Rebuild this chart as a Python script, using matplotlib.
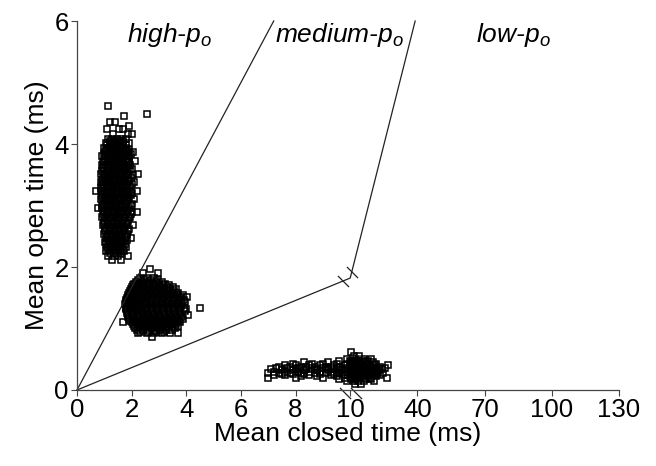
import numpy as np
import matplotlib
matplotlib.use("Agg")
import matplotlib.pyplot as plt

plt.rcParams["font.family"] = ["Liberation Sans", "DejaVu Sans"]
plt.rcParams["mathtext.fontset"] = "custom"
plt.rcParams["mathtext.it"] = "Liberation Sans:italic"
plt.rcParams["mathtext.rm"] = "Liberation Sans"

# ---- data (mean closed time ms, mean open time ms) ----
# each row: (open time, [closed times])
high_po_rows = [
    (4.62, [1.15]), (4.49, [2.57]), (4.45, [1.72]), (4.36, [1.22, 1.40]),
    (4.30, [1.90]), (4.24, [1.08, 1.55, 1.68]), (4.16, [1.30, 1.85, 2.02]),
    (4.08, [1.12, 1.28, 1.45, 1.62, 1.78]),
    (4.05, [1.20, 1.37, 1.53, 1.70]),
    (4.01, [1.05, 1.20, 1.38, 1.55, 1.70, 1.92]),
    (3.98, [1.10, 1.28, 1.46, 1.62, 1.80]),
    (3.94, [0.98, 1.15, 1.30, 1.47, 1.63, 1.80]),
    (3.91, [1.06, 1.25, 1.40, 1.58, 1.74, 1.92]),
    (3.87, [1.02, 1.22, 1.36, 1.52, 1.68, 1.85, 2.05]),
    (3.84, [1.00, 1.16, 1.32, 1.48, 1.64, 1.80, 1.96]),
    (3.80, [0.93, 1.10, 1.27, 1.42, 1.58, 1.75, 1.90]),
    (3.77, [1.04, 1.20, 1.37, 1.54, 1.70, 1.86]),
    (3.73, [0.98, 1.16, 1.33, 1.50, 1.66, 1.83, 2.12]),
    (3.70, [0.95, 1.12, 1.28, 1.45, 1.62, 1.78, 1.92]),
    (3.66, [0.90, 1.05, 1.22, 1.40, 1.56, 1.72, 1.95]),
    (3.63, [1.00, 1.17, 1.34, 1.50, 1.67, 1.85]),
    (3.59, [0.96, 1.12, 1.30, 1.46, 1.63, 1.80, 2.00]),
    (3.56, [0.92, 1.08, 1.25, 1.42, 1.58, 1.75, 1.93]),
    (3.52, [0.88, 1.03, 1.20, 1.37, 1.54, 1.70, 1.88, 2.22]),
    (3.49, [0.98, 1.15, 1.32, 1.48, 1.65, 1.82, 2.04]),
    (3.45, [0.94, 1.10, 1.27, 1.44, 1.60, 1.77, 1.96]),
    (3.42, [0.90, 1.06, 1.22, 1.40, 1.56, 1.73, 1.90]),
    (3.38, [0.86, 1.02, 1.18, 1.35, 1.52, 1.68, 1.85, 2.10]),
    (3.35, [0.96, 1.13, 1.30, 1.46, 1.63, 1.80, 2.00]),
    (3.31, [0.92, 1.08, 1.25, 1.42, 1.58, 1.75, 1.93]),
    (3.28, [0.88, 1.00, 1.16, 1.33, 1.50, 1.66, 1.83]),
    (3.24, [0.70, 0.88, 1.04, 1.21, 1.38, 1.55, 1.72, 1.90, 2.18]),
    (3.21, [0.97, 1.14, 1.31, 1.48, 1.65, 1.82, 2.02]),
    (3.17, [0.93, 1.10, 1.27, 1.44, 1.61, 1.78, 1.98]),
    (3.14, [0.90, 1.06, 1.23, 1.40, 1.57, 1.74, 1.92]),
    (3.10, [0.87, 1.03, 1.20, 1.37, 1.54, 1.71, 1.88, 2.08]),
    (3.07, [0.98, 1.15, 1.32, 1.49, 1.66, 1.84]),
    (3.03, [0.95, 1.12, 1.29, 1.46, 1.63, 1.80, 2.00]),
    (3.00, [0.92, 1.08, 1.25, 1.42, 1.59, 1.76, 1.96]),
    (2.96, [0.78, 0.90, 1.06, 1.23, 1.40, 1.57, 1.74, 1.92]),
    (2.93, [1.00, 1.17, 1.34, 1.51, 1.68, 1.86]),
    (2.89, [0.97, 1.14, 1.31, 1.48, 1.65, 1.82, 2.02, 2.20]),
    (2.86, [0.95, 1.11, 1.28, 1.45, 1.62, 1.79, 1.98]),
    (2.82, [0.92, 1.08, 1.25, 1.42, 1.59, 1.76, 1.95]),
    (2.79, [1.03, 1.20, 1.37, 1.54, 1.72, 1.90]),
    (2.75, [1.00, 1.17, 1.34, 1.51, 1.68, 1.86]),
    (2.72, [0.98, 1.15, 1.32, 1.49, 1.66, 1.84]),
    (2.68, [0.95, 1.12, 1.29, 1.46, 1.63, 1.80, 2.05]),
    (2.65, [1.06, 1.23, 1.40, 1.57, 1.74]),
    (2.61, [1.03, 1.20, 1.37, 1.54, 1.71, 1.90]),
    (2.58, [1.02, 1.18, 1.35, 1.52, 1.69, 1.86]),
    (2.54, [1.00, 1.15, 1.32, 1.49, 1.66, 1.83]),
    (2.51, [1.08, 1.26, 1.43, 1.60, 1.78]),
    (2.47, [1.06, 1.24, 1.41, 1.58, 1.75, 1.98]),
    (2.44, [1.12, 1.30, 1.47, 1.64, 1.82]),
    (2.40, [1.02, 1.18, 1.35, 1.52, 1.69]),
    (2.37, [1.06, 1.22, 1.40, 1.56, 1.74]),
    (2.33, [1.10, 1.28, 1.45, 1.62, 1.80]),
    (2.30, [1.15, 1.33, 1.50, 1.67]),
    (2.26, [1.05, 1.22, 1.40, 1.58, 1.72]),
    (2.22, [1.20, 1.42, 1.62]),
    (2.18, [1.15, 1.35, 1.50, 1.88]),
    (2.12, [1.28, 1.62]),
]

medium_po_rows = [
    (1.96, [2.69]), (1.90, [2.43, 2.95]),
    (1.82, [2.30, 2.55, 2.80]),
    (1.79, [2.22, 2.45, 2.70, 2.95]),
    (1.76, [2.15, 2.38, 2.62, 2.88, 3.10]),
    (1.73, [2.10, 2.32, 2.55, 2.78, 3.00, 3.22]),
    (1.70, [2.05, 2.25, 2.45, 2.68, 2.90, 3.15, 3.35]),
    (1.67, [2.00, 2.20, 2.40, 2.60, 2.82, 3.05, 3.28, 3.50]),
    (1.64, [1.98, 2.15, 2.35, 2.55, 2.75, 2.95, 3.18, 3.40, 3.62]),
    (1.61, [1.94, 2.12, 2.32, 2.52, 2.72, 2.92, 3.12, 3.34, 3.56]),
    (1.58, [1.90, 2.08, 2.28, 2.46, 2.66, 2.86, 3.06, 3.26, 3.48, 3.70]),
    (1.55, [1.88, 2.05, 2.24, 2.43, 2.62, 2.82, 3.02, 3.22, 3.44, 3.66, 3.88]),
    (1.52, [1.85, 2.02, 2.20, 2.40, 2.58, 2.78, 2.98, 3.18, 3.38, 3.58, 3.80, 4.04]),
    (1.49, [1.82, 2.00, 2.18, 2.37, 2.56, 2.76, 2.96, 3.16, 3.36, 3.56, 3.78]),
    (1.46, [1.80, 1.97, 2.15, 2.33, 2.52, 2.72, 2.92, 3.12, 3.32, 3.52, 3.72, 3.90]),
    (1.43, [1.78, 1.95, 2.12, 2.30, 2.50, 2.70, 2.90, 3.10, 3.30, 3.50, 3.70, 3.95]),
    (1.40, [1.76, 1.92, 2.10, 2.28, 2.47, 2.66, 2.86, 3.06, 3.26, 3.46, 3.66, 3.86]),
    (1.37, [1.84, 2.02, 2.20, 2.38, 2.58, 2.78, 2.98, 3.18, 3.38, 3.58, 3.80]),
    (1.34, [1.78, 1.95, 2.13, 2.32, 2.50, 2.70, 2.90, 3.10, 3.30, 3.50, 3.70, 3.92, 4.52]),
    (1.31, [1.80, 1.98, 2.16, 2.34, 2.53, 2.72, 2.92, 3.12, 3.32, 3.52, 3.72, 3.98]),
    (1.28, [1.82, 2.00, 2.18, 2.36, 2.55, 2.75, 2.95, 3.15, 3.35, 3.55, 3.75, 3.95]),
    (1.25, [1.84, 2.02, 2.20, 2.40, 2.58, 2.78, 2.98, 3.18, 3.38, 3.58, 3.78]),
    (1.22, [1.86, 2.05, 2.23, 2.42, 2.61, 2.80, 3.00, 3.20, 3.40, 3.60, 3.80, 4.08]),
    (1.19, [1.88, 2.08, 2.26, 2.45, 2.64, 2.84, 3.04, 3.24, 3.44, 3.64, 3.84]),
    (1.16, [1.92, 2.10, 2.30, 2.48, 2.68, 2.88, 3.08, 3.28, 3.48, 3.68, 3.88]),
    (1.13, [1.95, 2.14, 2.34, 2.53, 2.73, 2.93, 3.13, 3.33, 3.53, 3.73]),
    (1.10, [1.70, 2.00, 2.18, 2.38, 2.58, 2.78, 2.98, 3.18, 3.38, 3.58, 3.78]),
    (1.07, [2.04, 2.24, 2.44, 2.63, 2.83, 3.03, 3.23, 3.43, 3.63]),
    (1.04, [2.08, 2.28, 2.48, 2.68, 2.88, 3.08, 3.28, 3.50, 3.70]),
    (1.01, [2.14, 2.35, 2.55, 2.76, 2.96, 3.16, 3.38, 3.60]),
    (0.98, [2.20, 2.40, 2.62, 2.84, 3.05, 3.26, 3.48]),
    (0.95, [2.32, 2.60, 2.90, 3.20]),
    (0.92, [2.25, 2.55, 2.80, 3.10, 3.40, 3.68]),
    (0.86, [2.76]),
]

low_po_rows = [
    (0.62, [10.3]),
    (0.56, [11.5, 14.0]),
    (0.50, [9.9, 12.5, 16.0, 19.5]),
    (0.47, [9.6, 10.0, 10.6, 11.8, 13.2, 15.5, 18.0]),
    (0.45, [8.3, 9.2, 10.2, 12.0, 14.5, 17.0, 20.0]),
    (0.43, [7.9, 8.6, 9.0, 9.5, 9.9, 10.4, 11.5, 12.8, 14.0, 15.8, 18.5, 21.5]),
    (0.40, [7.6, 8.0, 8.5, 8.9, 9.4, 9.8, 11.0, 13.0, 15.0, 17.5, 21.0, 27.0]),
    (0.38, [7.4, 7.8, 8.2, 8.4, 8.7, 9.1, 9.3, 9.6, 10.0, 10.8, 12.0, 13.8, 15.5, 17.0,
            19.0, 20.5, 23.5]),
    (0.36, [7.3, 7.7, 8.1, 8.6, 9.0, 9.5, 9.9, 11.5, 13.5, 16.0, 18.5, 22.0, 25.5]),
    (0.34, [7.1, 7.5, 7.9, 8.0, 8.4, 8.8, 9.2, 9.4, 9.8, 10.2, 11.0, 12.2, 14.0, 15.0,
            17.5, 20.0, 21.5, 24.0]),
    (0.32, [7.5, 7.9, 8.3, 8.8, 9.2, 9.7, 10.5, 12.5, 14.5, 17.0, 19.5, 23.0]),
    (0.30, [7.2, 7.6, 8.1, 8.5, 8.9, 9.3, 9.5, 9.9, 10.8, 11.5, 13.0, 15.8, 16.5, 18.5,
            20.5, 22.5]),
    (0.28, [7.0, 7.4, 7.8, 8.2, 8.7, 9.1, 9.6, 10.0, 11.8, 13.8, 15.5, 18.0, 21.0, 24.5]),
    (0.26, [7.5, 7.9, 8.3, 8.9, 9.4, 9.7, 10.2, 11.3, 12.8, 14.2, 16.5, 19.0, 22.0]),
    (0.24, [7.2, 7.6, 8.5, 9.3, 9.8, 11.0, 13.0, 15.0, 17.5, 20.0, 23.5]),
    (0.22, [8.2, 8.8, 9.5, 10.0, 11.5, 13.5, 15.5, 18.0, 21.5]),
    (0.20, [7.0, 8.0, 9.0, 9.8, 10.8, 12.5, 14.5, 16.5, 19.0, 26.5]),
    (0.18, [9.6, 10.5, 12.0, 14.0, 17.0, 19.5]),
    (0.15, [9.9, 11.5, 13.5, 16.0, 20.5]),
    (0.10, [12.0, 15.0]),
]

# boundary lines between the p_o classes
high_line_x = [0, 7.2]
high_line_y = [0, 6]
low_line_x = [0, 10, 39]
low_line_y = [0, 1.82, 6]

region_labels = [r"high-p$_o$", r"medium-p$_o$", r"low-p$_o$"]
region_label_x = [3.4, 9.6, 83]

x_ticks = [0, 2, 4, 6, 8, 10, 40, 70, 100, 130]
y_ticks = [0, 2, 4, 6]

# ---- broken x axis: linear up to 10 ms, compressed above ----
BREAK = 10.0
SQUEEZE = 0.082


def fwd(x):
    x = np.asarray(x, dtype=float)
    return np.where(x <= BREAK, x, BREAK + (x - BREAK) * SQUEEZE)


def inv(u):
    u = np.asarray(u, dtype=float)
    return np.where(u <= BREAK, u, BREAK + (u - BREAK) / SQUEEZE)


def flatten(rows):
    xs, ys = [], []
    for y, row in rows:
        xs.extend(row)
        ys.extend([y] * len(row))
    return np.array(xs), np.array(ys)


fig = plt.figure(figsize=(6.56, 4.66), dpi=100)
ax = fig.add_axes([0.1174, 0.1631, 0.8262, 0.7918])
ax.set_xscale("function", functions=(fwd, inv))
ax.set_xlim(0, 130)
ax.set_ylim(0, 6)

for rows in (high_po_rows, medium_po_rows, low_po_rows):
    xs, ys = flatten(rows)
    ax.plot(xs, ys, "s", ms=5, mfc="none", mec="black", mew=1.1, clip_on=False)

ax.plot(high_line_x, high_line_y, color="#222222", lw=0.9, clip_on=False)
ax.plot(low_line_x, low_line_y, color="#222222", lw=0.9, clip_on=False)

# break marks: on the low line around the bend and on the x axis at 10
slash = [(-1, 1), (1, -1)]
u_line = fwd(low_line_x)
mark_u = np.array([9.75, 10.06])
mark_y = np.interp(mark_u, u_line, low_line_y)
ax.plot(inv(mark_u), mark_y, ls="none", marker=slash, ms=8, mec="#222222", mew=0.9)
ax.plot([9.8, 12.7], [-0.05, -0.05], ls="none", marker=slash, ms=8, mec="#222222",
        mew=0.9, clip_on=False)

for label, lx in zip(region_labels, region_label_x):
    ax.text(lx, 5.78, label, ha="center", va="center", fontsize=19, style="italic")

ax.set_xticks(x_ticks)
ax.set_xticklabels([str(t) for t in x_ticks])
ax.set_yticks(y_ticks)
ax.minorticks_off()
ax.tick_params(axis="both", labelsize=18.5, length=4, width=0.8, color="#444444", pad=2)
ax.spines["top"].set_visible(False)
ax.spines["right"].set_visible(False)
for s in ("left", "bottom"):
    ax.spines[s].set_color("#444444")
    ax.spines[s].set_linewidth(0.9)

ax.set_xlabel("Mean closed time (ms)", fontsize=19, labelpad=0)
ax.set_ylabel("Mean open time (ms)", fontsize=19, labelpad=4)

fig.savefig("out.png", dpi=100)
